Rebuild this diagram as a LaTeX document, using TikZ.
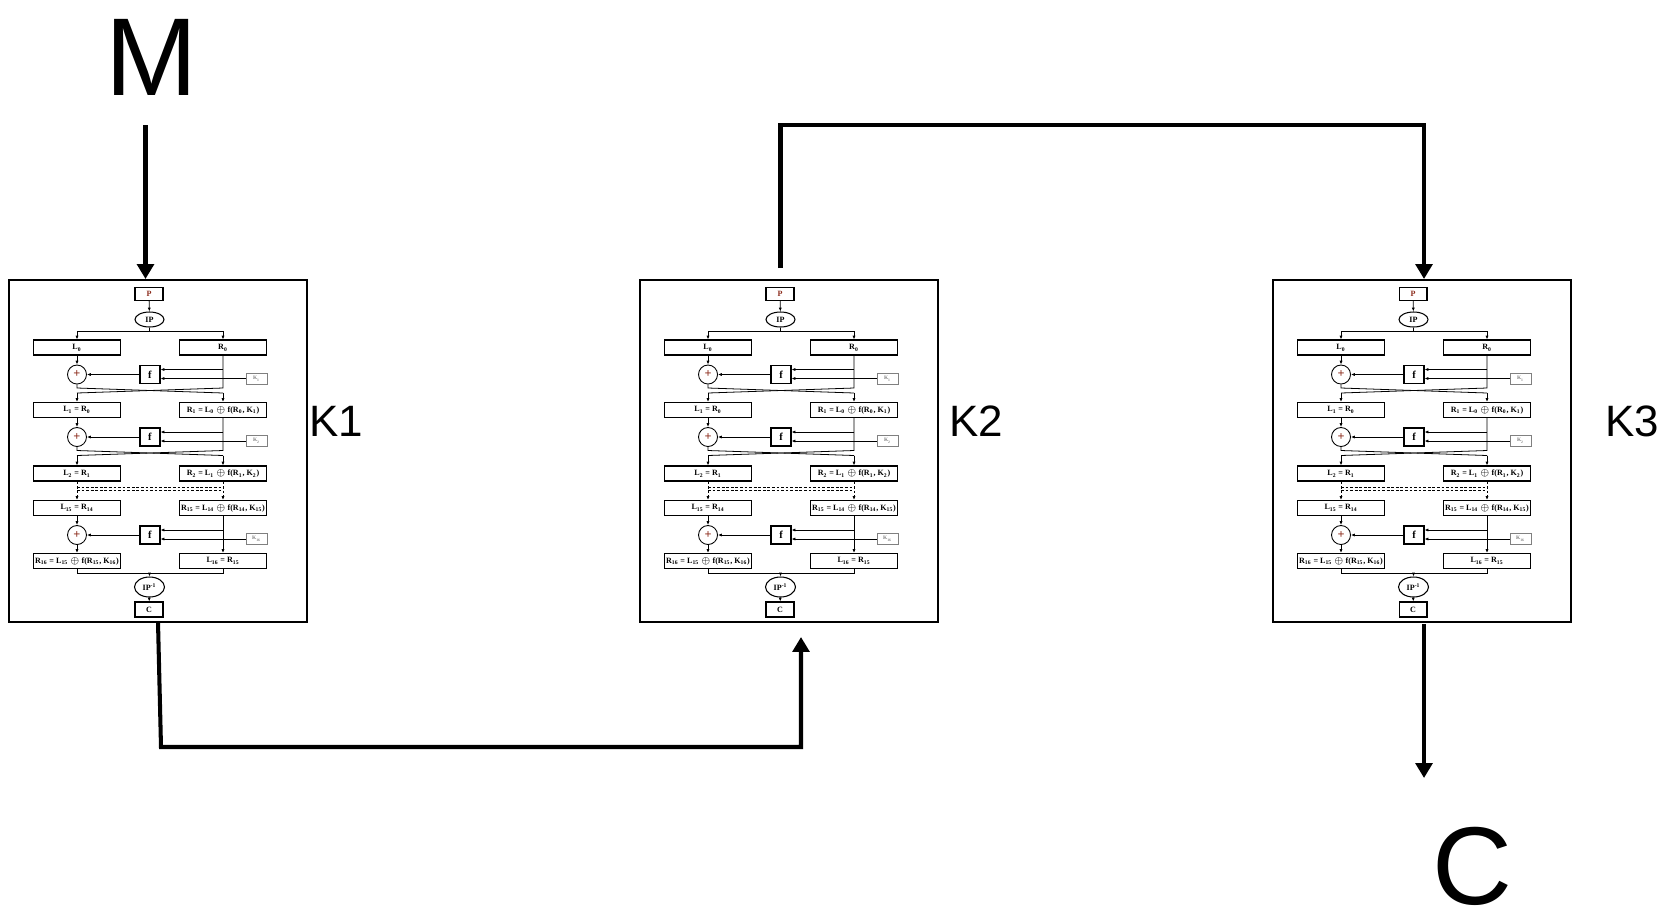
\documentclass[tikz,border=0pt]{standalone}
\usepackage{fontspec}
\setmainfont{Liberation Sans}
\newfontfamily\desfont{Liberation Serif}
\usetikzlibrary{arrows.meta,shapes.geometric,calc}
\definecolor{keygray}{HTML}{808080}
\definecolor{signred}{HTML}{8B2A1A}
\newcommand{\ix}[1]{\textsubscript{#1}}
\tikzset{
  flow/.style={draw=black, line width=2.3pt, -{Triangle[length=8.5pt,width=9.5pt]}},
  frame/.style={draw, line width=1.2pt, minimum width=5.96cm, minimum height=6.84cm, inner sep=0pt},
  biglabel/.style={font=\fontsize{63}{70}\selectfont, inner sep=0pt},
  keylabel/.style={font=\fontsize{25}{30}\selectfont, inner sep=0pt},
  wire/.style={draw, line width=0.45pt},
  tip/.style={wire, -{Latex[length=2.2pt,width=1.8pt]}},
  dwire/.style={wire, dash pattern=on 1.6pt off 1pt},
  half/.style={draw, line width=0.6pt, minimum width=1.74cm, minimum height=0.3cm,
    inner sep=0pt, font=\desfont\bfseries\fontsize{4.6}{5}\selectfont},
  smallbox/.style={draw, line width=0.6pt, minimum width=0.56cm, minimum height=0.26cm,
    inner sep=0pt, font=\desfont\bfseries\fontsize{4.6}{5}\selectfont},
  oval/.style={ellipse, draw, line width=0.6pt, minimum width=0.58cm, minimum height=0.3cm,
    inner sep=0pt, font=\desfont\bfseries\fontsize{4.6}{5}\selectfont},
  xor/.style={circle, draw, line width=0.5pt, minimum size=0.38cm, inner sep=0pt,
    text=signred, font=\desfont\bfseries\fontsize{7}{7}\selectfont},
  fbox/.style={draw, line width=0.6pt, minimum width=0.4cm, minimum height=0.36cm,
    inner sep=0pt, font=\desfont\bfseries\fontsize{6}{6}\selectfont},
  keybox/.style={draw=keygray, line width=0.4pt, minimum width=0.42cm, minimum height=0.22cm,
    inner sep=0pt, text=keygray, font=\desfont\bfseries\fontsize{3}{3}\selectfont}
}

\begin{document}
\begin{tikzpicture}[x=0.02cm,y=-0.02cm]
  \path[use as bounding box] (0,0) rectangle (1665,913);

  % three DES blocks
  \foreach \i/\bx in {1/8,2/639,3/1272}{
    \begin{scope}[shift={(\bx,279)}]
      \node[frame, anchor=north west] (blk\i) at (0,0) {};
      \node[smallbox, text=signred] (p-\i) at (141,15) {P};
      \node[oval] (ip-\i) at (141.5,40.5) {IP};

      \node[half] (l0-\i) at (69,68.5) {L\ix{0}};
      \node[half] (r0-\i) at (215,68.5) {R\ix{0}};
      \node[half] (l1-\i) at (69,131) {L\ix{1} = R\ix{0}};
      \node[half] (r1-\i) at (215,131) {R\ix{1} = L\ix{0} $\oplus$ f(R\ix{0}, K\ix{1})};
      \node[half] (l2-\i) at (69,194.5) {L\ix{2} = R\ix{1}};
      \node[half] (r2-\i) at (215,194.5) {R\ix{2} = L\ix{1} $\oplus$ f(R\ix{1}, K\ix{2})};
      \node[half] (l15-\i) at (69,229) {L\ix{15} = R\ix{14}};
      \node[half] (r15-\i) at (215,229) {R\ix{15} = L\ix{14} $\oplus$ f(R\ix{14}, K\ix{15})};
      \node[half] (r16-\i) at (69,282) {R\ix{16} = L\ix{15} $\oplus$ f(R\ix{15}, K\ix{16})};
      \node[half] (l16-\i) at (215,282) {L\ix{16} = R\ix{15}};

      \node[oval, minimum width=0.6cm, minimum height=0.4cm] (ipi-\i) at (141.5,308) {IP\textsuperscript{-1}};
      \node[smallbox, minimum height=0.3cm] (c-\i) at (141,330.5) {C};

      \draw[tip] (p-\i) -- (ip-\i);
      \coordinate (sp-\i) at (141.5,52);
      \draw[wire] (ip-\i) -- (sp-\i);
      \draw[tip] (sp-\i) -| (l0-\i);
      \draw[tip] (sp-\i) -| (r0-\i);

      % rounds
      \foreach \r/\ly/\lname/\rname/\kl in {a/68.5/l0/r0/1, b/131/l1/r1/2, c/229/l15/r15/16}{
        \node[xor] (x\r-\i) at (69,\ly+27) {+};
        \node[fbox] (f\r-\i) at (142,\ly+27) {f};
        \node[keybox] (k\r-\i) at (248.5,\ly+31) {K\ix{\kl}};
        \coordinate (t\r-\i) at (215,\ly+22);
        \draw[tip] (\lname-\i) -- (x\r-\i);
        \draw[tip] (f\r-\i) -- (x\r-\i);
        \draw[tip] (t\r-\i) -- (t\r-\i -| f\r-\i.east);
        \draw[tip] (k\r-\i) -- (k\r-\i -| f\r-\i.east);
      }

      % swaps
      \foreach \r/\ly/\rname/\nl/\nr in {a/68.5/r0/l1/r1, b/131/r1/l2/r2}{
        \coordinate (cl\r-\i) at (69,\ly+40.5);
        \coordinate (cr\r-\i) at (215,\ly+40.5);
        \coordinate (dl\r-\i) at (69,\ly+45.5);
        \coordinate (dr\r-\i) at (215,\ly+45.5);
        \draw[wire] (x\r-\i) -- (cl\r-\i) -- (dr\r-\i);
        \draw[tip] (dr\r-\i) -- (\nr-\i);
        \draw[wire] (\rname-\i) -- (cr\r-\i) -- (dl\r-\i);
        \draw[tip] (dl\r-\i) -- (\nl-\i);
      }

      % rounds 3..14 left out
      \coordinate (ga-\i) at (69,208);
      \coordinate (gb-\i) at (69,211);
      \draw[dwire] (ga-\i) -- (ga-\i -| r2-\i);
      \draw[dwire] (gb-\i) -- (gb-\i -| r2-\i);
      \draw[dwire, -{Latex[length=2.2pt,width=1.8pt]}] (l2-\i) -- (l15-\i);
      \draw[dwire, -{Latex[length=2.2pt,width=1.8pt]}] (r2-\i) -- (r15-\i);

      % last round, no swap
      \draw[tip] (xc-\i) -- (r16-\i);
      \draw[tip] (r15-\i) -- (l16-\i);
      \coordinate (mg-\i) at (141.5,294);
      \draw[wire] (r16-\i) |- (mg-\i);
      \draw[wire] (l16-\i) |- (mg-\i);
      \draw[tip] (mg-\i) -- (ipi-\i);
      \draw[tip] (ipi-\i) -- (c-\i);
    \end{scope}
  }

  \node[keylabel, anchor=base west] (k1lab) at (309,436) {K1};
  \node[keylabel, anchor=base west] (k2lab) at (949,436) {K2};
  \node[keylabel, anchor=base west] (k3lab) at (1605,436) {K3};

  \node[biglabel, anchor=base] (msg) at (152,95) {M};
  \node[biglabel, anchor=base] (ctext) at (1472,904) {C};

  \coordinate (mtail) at (145.5,125);
  \draw[flow] (mtail) -- (mtail |- blk1.north);

  \coordinate (turn1) at (161,747);
  \coordinate (in2) at (801,637);
  \draw[flow] (blk1.south) -- (turn1) -| (in2);

  \coordinate (up2) at (780.5,268);
  \coordinate (top3) at (1424,125);
  \draw[flow] (up2) |- (top3) -- (top3 |- blk3.north);

  \coordinate (out3) at (1424,624);
  \coordinate (end3) at (1424,778);
  \draw[flow] (out3) -- (end3);
\end{tikzpicture}
\end{document}
